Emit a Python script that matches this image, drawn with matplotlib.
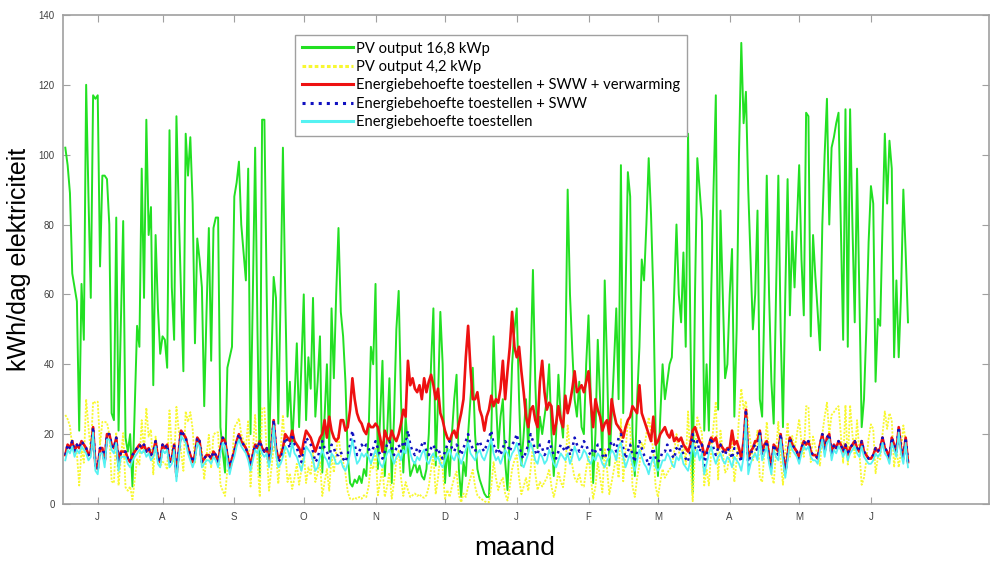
import numpy as np
import matplotlib
matplotlib.use('Agg')
import matplotlib.pyplot as plt

# daily values, one per day from mid June to mid June
pv_168 = [
    102, 97, 89, 66, 62, 58, 21, 63, 47, 120,
    88, 59, 117, 116, 117, 68, 94, 94, 93, 80,
    26, 24, 82, 21, 52, 81, 19, 15, 20, 5,
    28, 51, 45, 96, 59, 110, 77, 85, 34, 77,
    56, 43, 48, 47, 39, 107, 62, 47, 111, 84,
    60, 38, 106, 94, 105, 86, 46, 76, 70, 62,
    28, 55, 79, 41, 79, 82, 82, 22, 15, 9,
    39, 42, 45, 88, 92, 98, 80, 72, 64, 96,
    20, 60, 102, 50, 8, 110, 110, 60, 15, 40,
    65, 59, 23, 60, 102, 60, 25, 35, 17, 30,
    46, 22, 40, 60, 24, 42, 33, 59, 25, 35,
    48, 9, 25, 40, 15, 56, 36, 60, 79, 55,
    48, 35, 14, 6, 5, 7, 6, 8, 6, 10,
    8, 20, 45, 40, 63, 10, 25, 41, 8, 20,
    36, 6, 25, 50, 61, 30, 9, 25, 16, 8,
    10, 12, 9, 11, 8, 7, 10, 20, 40, 56,
    11, 30, 55, 40, 6, 16, 8, 20, 30, 37,
    10, 2, 12, 8, 20, 30, 39, 20, 10, 7,
    5, 3, 2, 2, 20, 48, 30, 16, 25, 30,
    12, 4, 20, 40, 50, 56, 30, 11, 20, 30,
    15, 40, 67, 35, 16, 25, 20, 25, 30, 40,
    20, 8, 20, 37, 25, 19, 40, 90, 60, 44,
    30, 25, 35, 22, 20, 40, 54, 30, 6, 20,
    47, 30, 13, 64, 40, 11, 25, 40, 56, 30,
    97, 26, 60, 95, 88, 20, 8, 30, 45, 70,
    64, 80, 99, 83, 60, 20, 8, 25, 40, 30,
    35, 40, 42, 60, 80, 60, 52, 72, 45, 106,
    50, 3, 60, 99, 90, 81, 21, 40, 21, 60,
    90, 117, 27, 84, 60, 36, 40, 60, 73, 25,
    50, 100, 132, 109, 118, 90, 70, 50, 60, 84,
    30, 25, 60, 94, 60, 35, 23, 60, 94, 50,
    22, 60, 93, 54, 78, 62, 80, 97, 70, 54,
    112, 111, 48, 77, 65, 55, 44, 80, 100, 116,
    80, 102, 105, 109, 112, 80, 47, 113, 45, 113,
    80, 52, 96, 60, 22, 30, 50, 75, 91, 86,
    35, 53, 51, 80, 106, 86, 104, 96, 42, 64,
    42, 60, 90, 72, 52,
]

pv_42 = [
    25.5, 24.3, 22.3, 16.5, 15.5, 14.5, 5.3, 15.8, 11.8, 30,
    22, 14.8, 29.3, 29, 29.3, 17, 23.5, 23.5, 23.3, 20,
    6.5, 6, 20.5, 5.3, 13, 20.3, 4.8, 3.8, 5, 1.3,
    7, 12.8, 11.3, 24, 14.8, 27.5, 19.3, 21.3, 8.5, 19.3,
    14, 10.8, 12, 11.8, 9.8, 26.8, 15.5, 11.8, 27.8, 21,
    15, 9.5, 26.5, 23.5, 26.3, 21.5, 11.5, 19, 17.5, 15.5,
    7, 13.8, 19.8, 10.3, 19.8, 20.5, 20.5, 5.5, 3.8, 2.3,
    9.8, 10.5, 11.3, 22, 23, 24.5, 20, 18, 16, 24,
    5, 15, 25.5, 12.5, 2, 27.5, 27.5, 15, 3.8, 10,
    16.3, 14.8, 5.8, 15, 25.5, 15, 6.3, 8.8, 4.3, 7.5,
    11.5, 5.5, 10, 15, 6, 10.5, 8.3, 14.8, 6.3, 8.8,
    12, 2.3, 6.3, 10, 3.8, 14, 9, 15, 19.8, 13.8,
    12, 8.8, 3.5, 1.5, 1.3, 1.8, 1.5, 2, 1.5, 2.5,
    2, 5, 11.3, 10, 15.8, 2.5, 6.3, 10.3, 2, 5,
    9, 1.5, 6.3, 12.5, 15.3, 7.5, 2.3, 6.3, 4, 2,
    2.5, 3, 2.3, 2.8, 2, 1.8, 2.5, 5, 10, 14,
    2.8, 7.5, 13.8, 10, 1.5, 4, 2, 5, 7.5, 9.3,
    2.5, 0.5, 3, 2, 5, 7.5, 9.8, 5, 2.5, 1.8,
    1.3, 0.8, 0.5, 0.5, 5, 12, 7.5, 4, 6.3, 7.5,
    3, 1, 5, 10, 12.5, 14, 7.5, 2.8, 5, 7.5,
    3.8, 10, 16.8, 8.8, 4, 6.3, 5, 6.3, 7.5, 10,
    5, 2, 5, 9.3, 6.3, 4.8, 10, 22.5, 15, 11,
    7.5, 6.3, 8.8, 5.5, 5, 10, 13.5, 7.5, 1.5, 5,
    11.8, 7.5, 3.3, 16, 10, 2.8, 6.3, 10, 14, 7.5,
    24.3, 6.5, 15, 23.8, 22, 5, 2, 7.5, 11.3, 17.5,
    16, 20, 24.8, 20.8, 15, 5, 2, 6.3, 10, 7.5,
    8.8, 10, 10.5, 15, 20, 15, 13, 18, 11.3, 26.5,
    12.5, 0.8, 15, 24.8, 22.5, 20.3, 5.3, 10, 5.3, 15,
    22.5, 29.3, 6.8, 21, 15, 9, 10, 15, 18.3, 6.3,
    12.5, 25, 33, 27.3, 29.5, 22.5, 17.5, 12.5, 15, 21,
    7.5, 6.3, 15, 23.5, 15, 8.8, 5.8, 15, 23.5, 12.5,
    5.5, 15, 23.3, 13.5, 19.5, 15.5, 20, 24.3, 17.5, 13.5,
    28, 27.8, 12, 19.3, 16.3, 13.8, 11, 20, 25, 29,
    20, 25.5, 26.3, 27.3, 28, 20, 11.8, 28.3, 11.3, 28.3,
    20, 13, 24, 15, 5.5, 7.5, 12.5, 18.8, 22.8, 21.5,
    8.8, 13.3, 12.8, 20, 26.5, 21.5, 26, 24, 10.5, 16,
    10.5, 15, 22.5, 18, 13,
]

behoefte_verw = [
    14, 17, 16, 18, 15, 17, 16, 18, 17, 16,
    14, 15, 22, 11, 10, 16, 16, 12, 20, 20,
    17, 16, 19, 11, 15, 15, 15, 13, 12, 14,
    15, 16, 17, 16, 17, 15, 16, 14, 15, 18,
    13, 12, 17, 16, 17, 12, 13, 17, 8, 15,
    21, 20, 19, 16, 14, 12, 14, 19, 18, 12,
    13, 14, 14, 13, 15, 14, 12, 16, 19, 18,
    14, 10, 13, 15, 18, 20, 18, 17, 16, 14,
    11, 14, 17, 16, 18, 16, 15, 16, 12, 16,
    24, 16, 13, 14, 16, 20, 19, 18, 21, 18,
    17, 16, 14, 18, 21, 20, 19, 17, 15, 17,
    19, 20, 24, 19, 25, 21, 19, 18, 19, 24,
    24, 21, 22, 27, 36, 30, 26, 24, 23, 21,
    20, 23, 22, 22, 23, 22, 19, 15, 21, 19,
    18, 21, 19, 18, 20, 23, 27, 25, 41, 34,
    36, 33, 32, 34, 30, 36, 32, 35, 37, 34,
    30, 33, 26, 24, 21, 19, 18, 20, 21, 19,
    23, 26, 30, 42, 51, 39, 30, 30, 32, 27,
    25, 21, 25, 27, 31, 28, 30, 29, 33, 41,
    30, 38, 45, 55, 45, 42, 45, 38, 32, 25,
    22, 27, 28, 24, 22, 35, 41, 32, 27, 29,
    28, 20, 23, 28, 24, 22, 31, 26, 29, 33,
    38, 32, 33, 34, 32, 35, 38, 29, 22, 30,
    27, 25, 21, 23, 24, 20, 30, 26, 23, 22,
    21, 19, 22, 24, 25, 28, 27, 26, 34, 26,
    24, 22, 20, 18, 25, 17, 18, 20, 21, 22,
    20, 19, 21, 18, 19, 18, 19, 17, 16, 15,
    17, 21, 22, 20, 18, 17, 14, 15, 17, 19,
    18, 19, 16, 17, 16, 15, 16, 16, 21, 17,
    18, 16, 13, 18, 27, 13, 15, 16, 18, 18,
    21, 15, 17, 18, 14, 11, 17, 16, 15, 20,
    14, 9, 14, 19, 17, 16, 15, 13, 16, 18,
    17, 18, 15, 14, 14, 13, 17, 20, 15, 19,
    20, 14, 17, 16, 18, 17, 15, 17, 14, 16,
    17, 18, 16, 15, 18, 15, 14, 13, 13, 14,
    16, 15, 16, 19, 16, 15, 13, 19, 17, 15,
    22, 16, 13, 19, 12,
]

behoefte_sww = [
    14, 17, 16, 18, 15, 17, 16, 18, 17, 16,
    14, 15, 22, 11, 10, 16, 16, 12, 20, 20,
    17, 16, 19, 11, 15, 15, 15, 13, 12, 14,
    15, 16, 17, 16, 17, 15, 16, 14, 15, 18,
    13, 12, 17, 16, 17, 12, 13, 17, 8, 15,
    21, 20, 19, 16, 14, 12, 14, 19, 18, 12,
    13, 14, 14, 13, 15, 14, 12, 16, 19, 18,
    14, 10, 13, 15, 18, 20, 18, 17, 16, 14,
    11, 14, 17, 16, 18, 16, 15, 16, 12, 16,
    24, 16, 12, 13, 15, 19, 18, 16, 20, 17,
    16, 14, 12, 15, 19, 18, 17, 15, 12, 13,
    16, 18, 16, 15, 13, 17, 16, 14, 14, 15,
    13, 12, 14, 17, 21, 17, 14, 15, 17, 16,
    17, 16, 14, 16, 18, 16, 14, 13, 15, 17,
    18, 16, 14, 16, 17, 15, 18, 17, 21, 17,
    15, 14, 16, 15, 17, 18, 15, 14, 16, 17,
    15, 16, 14, 13, 15, 17, 18, 16, 15, 17,
    16, 14, 16, 18, 20, 17, 16, 15, 17, 18,
    16, 15, 17, 19, 21, 17, 15, 16, 14, 16,
    18, 17, 15, 17, 18, 20, 17, 14, 13, 15,
    17, 20, 18, 15, 14, 17, 16, 14, 15, 18,
    16, 14, 13, 15, 17, 16, 15, 17, 14, 16,
    19, 17, 15, 16, 18, 17, 15, 14, 16, 15,
    17, 16, 14, 13, 15, 16, 18, 17, 15, 19,
    20, 16, 13, 15, 17, 14, 12, 15, 18, 16,
    14, 13, 11, 14, 16, 13, 12, 13, 15, 15,
    17, 16, 14, 13, 16, 15, 17, 14, 13, 12,
    15, 20, 16, 18, 15, 17, 11, 14, 17, 19,
    16, 14, 16, 17, 15, 14, 16, 15, 13, 16,
    15, 14, 12, 16, 27, 11, 14, 16, 17, 15,
    21, 14, 16, 18, 13, 10, 17, 15, 14, 20,
    14, 9, 14, 19, 17, 16, 15, 13, 16, 18,
    17, 18, 15, 14, 14, 13, 17, 20, 15, 19,
    20, 14, 17, 16, 18, 17, 15, 17, 14, 16,
    17, 18, 16, 15, 18, 15, 14, 13, 13, 14,
    16, 15, 16, 19, 16, 15, 13, 19, 17, 15,
    22, 16, 13, 19, 12,
]

behoefte = [
    12.5, 15.5, 14.5, 16.5, 13.5, 15.5, 14.5, 16.5, 15.5, 14.5,
    12.5, 13.5, 20.5, 9.5, 8.5, 14.5, 14.5, 10.5, 18.5, 18.5,
    15.5, 14.5, 17.5, 9.5, 13.5, 13.5, 13.5, 11.5, 10.5, 12.5,
    13.5, 14.5, 15.5, 14.5, 15.5, 13.5, 14.5, 12.5, 13.5, 16.5,
    11.5, 10.5, 15.5, 14.5, 15.5, 10.5, 11.5, 15.5, 6.5, 13.5,
    19.5, 18.5, 17.5, 14.5, 12.5, 10.5, 12.5, 17.5, 16.5, 10.5,
    11.5, 12.5, 12.5, 11.5, 13.5, 12.5, 10.5, 14.5, 17.5, 16.5,
    12.5, 8.5, 11.5, 13.5, 16.5, 18.5, 16.5, 15.5, 14.5, 12.5,
    9.5, 12.5, 15.5, 14.5, 16.5, 14.5, 13.5, 14.5, 10.5, 14.5,
    22.5, 14.5, 10.5, 11.5, 13.5, 16.5, 15.5, 13.5, 17.5, 14.5,
    13.5, 11.5, 9.5, 12.5, 16.5, 15.5, 14.5, 12.5, 9.5, 10.5,
    13.5, 15.5, 13.5, 12.5, 10.5, 14.5, 13.5, 11.5, 11.5, 12.5,
    10.5, 9.5, 11.5, 14.5, 18.5, 14.5, 11.5, 12.5, 14.5, 13.5,
    14.5, 13.5, 11.5, 13.5, 15.5, 13.5, 11.5, 10.5, 12.5, 14.5,
    15.5, 13.5, 11.5, 13.5, 14.5, 12.5, 15.5, 14.5, 18.5, 14.5,
    12.5, 11.5, 13.5, 12.5, 14.5, 15.5, 12.5, 11.5, 13.5, 14.5,
    12.5, 13.5, 11.5, 10.5, 12.5, 14.5, 15.5, 13.5, 12.5, 14.5,
    13.5, 11.5, 13.5, 15.5, 17.5, 14.5, 13.5, 12.5, 14.5, 15.5,
    13.5, 12.5, 14.5, 16.5, 18.5, 14.5, 12.5, 13.5, 11.5, 13.5,
    15.5, 14.5, 12.5, 14.5, 15.5, 17.5, 14.5, 11.5, 10.5, 12.5,
    14.5, 17.5, 15.5, 12.5, 11.5, 14.5, 13.5, 11.5, 12.5, 15.5,
    13.5, 11.5, 10.5, 12.5, 14.5, 13.5, 12.5, 14.5, 11.5, 13.5,
    16.5, 14.5, 12.5, 13.5, 15.5, 14.5, 12.5, 11.5, 13.5, 12.5,
    14.5, 13.5, 11.5, 10.5, 12.5, 13.5, 15.5, 14.5, 12.5, 16.5,
    17.5, 13.5, 10.5, 12.5, 14.5, 11.5, 9.5, 12.5, 15.5, 13.5,
    11.5, 10.5, 8.5, 11.5, 13.5, 10.5, 9.5, 10.5, 12.5, 12.5,
    14.5, 13.5, 11.5, 10.5, 13.5, 12.5, 14.5, 11.5, 10.5, 9.5,
    12.5, 17.5, 13.5, 15.5, 12.5, 14.5, 8.5, 11.5, 14.5, 16.5,
    13.5, 11.5, 13.5, 14.5, 12.5, 11.5, 13.5, 12.5, 10.5, 13.5,
    12.5, 11.5, 9.5, 13.5, 24.5, 8.5, 11.5, 13.5, 14.5, 12.5,
    19.5, 12.5, 14.5, 16.5, 11.5, 8.5, 15.5, 13.5, 12.5, 18.5,
    12.5, 7.5, 12.5, 17.5, 15.5, 14.5, 13.5, 11.5, 14.5, 16.5,
    15.5, 16.5, 13.5, 12.5, 12.5, 11.5, 15.5, 18.5, 13.5, 17.5,
    18.5, 12.5, 15.5, 14.5, 16.5, 15.5, 13.5, 15.5, 12.5, 14.5,
    15.5, 16.5, 14.5, 13.5, 16.5, 13.5, 12.5, 11.5, 11.5, 12.5,
    14.5, 13.5, 14.5, 17.5, 14.5, 13.5, 11.5, 17.5, 15.5, 13.5,
    20.5, 14.5, 11.5, 17.5, 10.5,
]

month_ticks = [15, 43, 74, 104, 135, 165, 196, 227, 257, 288, 318, 349]
month_labels = ['J', 'A', 'S', 'O', 'N', 'D', 'J', 'F', 'M', 'A', 'M', 'J']

series_labels = ['PV output 16,8 kWp', 'PV output 4,2 kWp',
                 'Energiebehoefte toestellen + SWW + verwarming',
                 'Energiebehoefte toestellen + SWW',
                 'Energiebehoefte toestellen']

days = np.arange(1, len(pv_168) + 1)

fig = plt.figure(figsize=(10, 5.7), dpi=100)
ax = fig.add_axes([0.063, 0.1158, 0.926, 0.858])

ax.plot(days, pv_168, color='#22e022', lw=1.4, label=series_labels[0])
ax.plot(days, pv_42, color='#f8f830', lw=1.3, ls=(0, (1.2, 0.8)),
        label=series_labels[1])
ax.plot(days, behoefte_verw, color='#ee1111', lw=1.9, label=series_labels[2])
ax.plot(days, behoefte_sww, color='#1010c0', lw=1.8, ls=':',
        label=series_labels[3])
ax.plot(days, behoefte, color='#55f2f2', lw=1.3, label=series_labels[4])

ax.set_xlim(0, 400)
ax.set_ylim(0, 140)
ax.set_yticks(range(0, 141, 20))
ax.set_xticks(month_ticks)
ax.set_xticklabels(month_labels)

for s in ax.spines.values():
    s.set_color('#a0a0a0')
    s.set_linewidth(1.2)
ax.tick_params(direction='in', length=5, width=0.8, color='#a0a0a0',
               top=True, right=True, labelsize=7, labelcolor='#404040',
               pad=6)
for t in ax.get_xticklabels() + ax.get_yticklabels():
    t.set_family('Liberation Sans')

leg = ax.legend(loc='upper left', bbox_to_anchor=(0.2505, 0.959),
                borderaxespad=0, fancybox=False, framealpha=1,
                edgecolor='#a0a0a0', handlelength=3.5, handletextpad=0.2,
                labelspacing=0.3, borderpad=0.45,
                prop={'family': 'Lato', 'size': 10.6})
leg.get_frame().set_linewidth(1.0)
for h in leg.get_lines():
    h.set_linewidth(2.2)

fig.text(0.019, 0.545, 'kWh/dag elektriciteit', rotation=90, ha='center',
         va='center', fontsize=18, family='Liberation Sans')
fig.text(0.515, 0.038, 'maand', ha='center', va='center', fontsize=19,
         family='Liberation Sans')

fig.savefig('out.png', dpi=100)
